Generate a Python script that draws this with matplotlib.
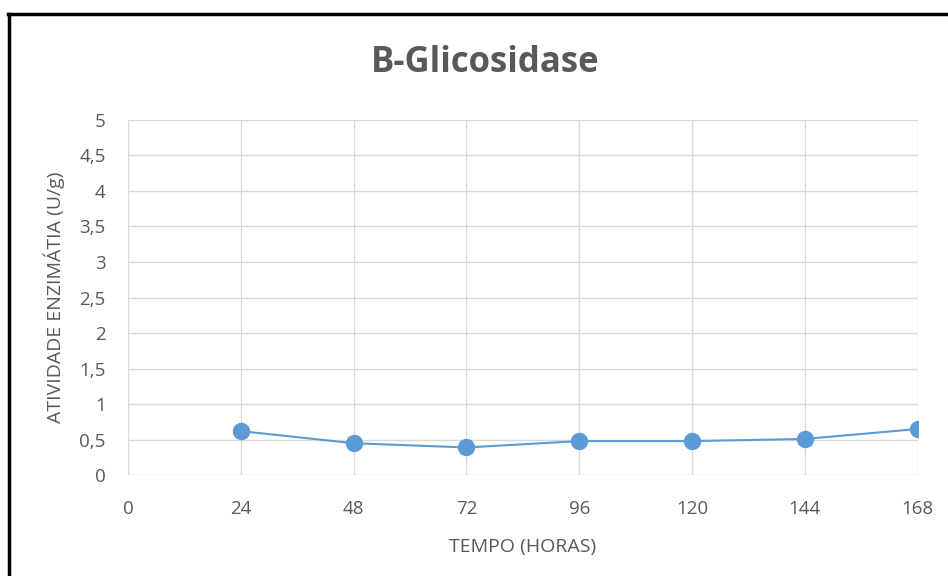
import numpy as np
import matplotlib.pyplot as plt
from matplotlib.lines import Line2D

# Atividade enzimatica ao longo do tempo
horas = [24, 48, 72, 96, 120, 144, 168]
atividade = [0.62, 0.45, 0.39, 0.48, 0.48, 0.51, 0.65]
erro = [0.02, 0.02, 0.03, 0.02, 0.02, 0.02, 0.07]
yticks = [0, 0.5, 1, 1.5, 2, 2.5, 3, 3.5, 4, 4.5, 5]
xticks = [0, 24, 48, 72, 96, 120, 144, 168]

cinza = "#595959"
azul = "#5B9BD5"

plt.rcParams['font.family'] = ['Open Sans', 'DejaVu Sans']

fig = plt.figure(figsize=(9.48, 5.76), dpi=100)
ax = fig.add_axes([0.135, 0.175, 0.833, 0.617])

ax.errorbar(horas, atividade, yerr=erro, fmt="none", ecolor="#262626",
            elinewidth=1, capsize=3, zorder=2)
ax.plot(horas, atividade, c=azul, lw=1.5, marker="o", markersize=11.5,
        markeredgecolor=azul, zorder=3)

ax.set_xlim([0, 168])
ax.set_ylim([0, 5])
ax.set_xticks(xticks)
ax.set_yticks(yticks)
ax.set_yticklabels([str(v).replace(".", ",") for v in yticks])
ax.grid(True, color="#D9D9D9", lw=1)
ax.set_axisbelow(True)
for s in ax.spines.values():
    s.set_visible(False)
ax.tick_params(length=0, labelsize=13.5, colors=cinza)
ax.tick_params(axis="y", pad=16)
ax.tick_params(axis="x", pad=18)

fig.text(0.512, 0.89, "B-Glicosidase", fontsize=25, fontweight="bold",
         color=cinza, ha="center", va="center")
ax.set_xlabel("TEMPO (HORAS)", fontsize=14, color=cinza, labelpad=14)
ax.set_ylabel("ATIVIDADE ENZIMÁTIA (U/g)", fontsize=14, color=cinza, labelpad=10)

# moldura (so esquerda e topo aparecem)
fig.add_artist(Line2D([0.0095, 0.0095], [0, 0.975], color="black", lw=2.5,
                      transform=fig.transFigure))
fig.add_artist(Line2D([0.0085, 1.0], [0.975, 0.975], color="black", lw=2.5,
                      transform=fig.transFigure))

plt.savefig("out.png", dpi=100)
